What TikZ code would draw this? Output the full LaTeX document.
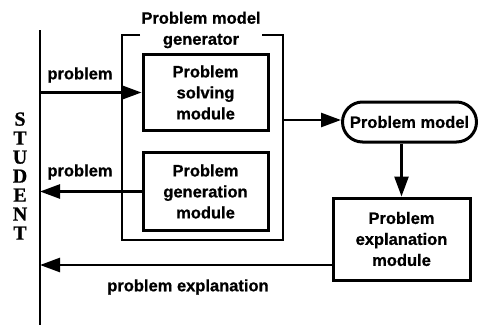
\documentclass[tikz,border=0pt]{standalone}
\usepackage{fontspec}
\newfontfamily\hv[FakeBold=0.8]{Liberation Sans}
\newfontfamily\st[FakeBold=0.8]{Liberation Serif}
\usetikzlibrary{arrows.meta,calc}
\begin{document}
\begin{tikzpicture}[x=1pt,y=-1pt,
  lbl/.style={font=\hv\bfseries\fontsize{16.5}{21}\selectfont, align=center, inner sep=0pt},
  modbox/.style={draw, line width=3pt, lbl, minimum width=125pt, minimum height=76pt},
  arr/.style={line width=2.6pt, -{Triangle[length=20pt,width=14pt]}}]
\useasboundingbox (0,0) rectangle (481,327);
% student line
\coordinate (ltop) at (40,30);
\coordinate (lbot) at (40,325);
\draw[line width=2.4pt] (ltop) -- (lbot);
\node[font=\st\bfseries\fontsize{20}{19}\selectfont, align=center, inner sep=0pt] (stud) at (20,176) {S\\T\\U\\D\\E\\N\\T};
% outer generator bracket
\draw[line width=2.6pt] (140,35) -- (122,35) -- (122,240) -- (283,240) -- (283,35) -- (262,35);
\node[lbl] (gtitle) at (201,30) {Problem model\\generator};
% modules
\node[modbox] (solve) at (205.5,92.5) {Problem\\solving\\module};
\node[modbox, minimum height=78pt] (gen) at (205.5,191.5) {Problem\\generation\\module};
\node[draw, line width=3pt, lbl, rounded corners=20pt, minimum width=134pt, minimum height=40pt] (pm) at (409.5,122) {Problem model};
\node[modbox, minimum width=137pt, minimum height=82pt] (expl) at (401.5,239) {Problem\\explanation\\module};
% connectors
\draw[arr] (solve.west -| ltop) -- (solve.west);
\node[lbl] (l1) at (80,75) {problem};
\draw[arr] (gen.west) -- (gen.west -| ltop);
\node[lbl] (l2) at (80,172) {problem};
\coordinate (gout) at (283,120);
\draw[arr] (gout) -- (gout -| pm.west);
\draw[arr] (pm.south -| expl.north) -- (expl.north);
\coordinate (peS) at ([yshift=-26pt]expl.west);
\draw[arr] (peS) -- (peS -| ltop);
\node[lbl] (l3) at (188,287) {problem explanation};
\end{tikzpicture}
\end{document}
